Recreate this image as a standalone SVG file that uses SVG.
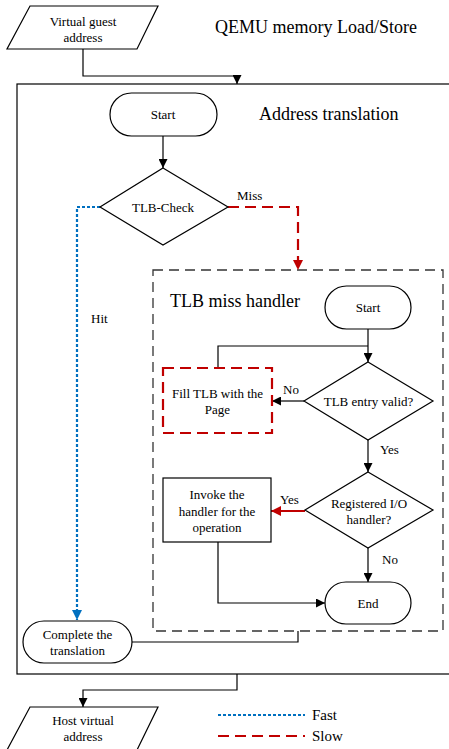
<svg xmlns="http://www.w3.org/2000/svg" width="449" height="749" viewBox="0 0 449 749">
<style>
text{font-family:"Liberation Serif","Times New Roman",serif;fill:#000}
.n{font-size:13px;text-anchor:middle;dominant-baseline:central}
.t{font-size:18px}
.lg{font-size:15px;dominant-baseline:central}
.lb{font-size:13px}
.sh{fill:#fff;stroke:#000;stroke-width:1.2}
.c{fill:none;stroke:#000;stroke-width:1.2}
.fast{fill:none;stroke:#0070C0;stroke-width:2.2;stroke-dasharray:3 2}
.slow{fill:none;stroke:#C00000;stroke-width:2.2;stroke-dasharray:11 6}
</style>
<defs>
<marker id="ak" viewBox="0 0 10 10" refX="10" refY="5" markerWidth="11" markerHeight="9" markerUnits="userSpaceOnUse" orient="auto"><path d="M0,0L10,5L0,10z" fill="#000"/></marker>
<marker id="ar" viewBox="0 0 10 10" refX="10" refY="5" markerWidth="11" markerHeight="10" markerUnits="userSpaceOnUse" orient="auto"><path d="M0,0L10,5L0,10z" fill="#C00000"/></marker>
<marker id="ab" viewBox="0 0 10 10" refX="10" refY="5" markerWidth="13" markerHeight="10" markerUnits="userSpaceOnUse" orient="auto"><path d="M0,0L10,5L0,10z" fill="#0070C0"/></marker>
</defs>
<rect width="449" height="749" fill="#fff"/>

<g id="outer">
<rect x="17" y="84" width="445" height="590" fill="none" stroke="#000" stroke-width="1.2"/>
</g>
<g id="missbox">
<rect x="153" y="270" width="290" height="361" fill="none" stroke="#333" stroke-width="1.3" stroke-dasharray="10 6"/>
</g>

<text class="t" x="215" y="33">QEMU memory Load/Store</text>
<text class="t" x="259" y="120">Address translation</text>
<text class="t" x="170" y="307">TLB miss handler</text>

<g id="connectors">
<polyline class="c" points="83,49 83,76 237,76 237,84" marker-end="url(#ak)"/>
<line class="c" x1="163" y1="136" x2="163" y2="168" marker-end="url(#ak)"/>
<polyline class="slow" points="228,207 298,207 298,270" marker-end="url(#ar)"/>
<polyline class="fast" points="100,207 77,207 77,620" marker-end="url(#ab)"/>
<line class="c" x1="368" y1="329" x2="368" y2="362" marker-end="url(#ak)"/>
<polyline class="c" points="218,368 218,346 368,346"/>
<line class="c" x1="304" y1="401" x2="272" y2="401" marker-end="url(#ak)"/>
<line class="c" x1="368" y1="440" x2="368" y2="472" marker-end="url(#ak)"/>
<line x1="305" y1="511" x2="271" y2="511" stroke="#C00000" stroke-width="2.2" marker-end="url(#ar)"/>
<line class="c" x1="368" y1="548" x2="368" y2="582" marker-end="url(#ak)"/>
<polyline class="c" points="218,542 218,603 325,603" marker-end="url(#ak)"/>
<polyline class="c" points="132,642 298,642 298,631"/>
<polyline class="c" points="237,674 237,690 83,690 83,707" marker-end="url(#ak)"/>
<text class="lb" x="237" y="200">Miss</text>
<text class="lb" x="91" y="323">Hit</text>
<text class="lb" x="283" y="394">No</text>
<text class="lb" x="380" y="454">Yes</text>
<text class="lb" x="280" y="504">Yes</text>
<text class="lb" x="382" y="564">No</text>
</g>

<g id="vga">
<polygon class="sh" points="30,6 158,6 137,49 7,49"/>
<text class="n" x="83" y="21">Virtual guest</text>
<text class="n" x="83" y="37">address</text>
</g>
<g id="start1">
<rect class="sh" x="110" y="93" width="107" height="43" rx="21.5"/>
<text class="n" x="163" y="114">Start</text>
</g>
<g id="tlbcheck">
<polygon class="sh" points="163,168 228,207 163,245 100,207"/>
<text class="n" x="163" y="207">TLB-Check</text>
</g>
<g id="start2">
<rect class="sh" x="325" y="286" width="86" height="43" rx="21.5"/>
<text class="n" x="368" y="307.5">Start</text>
</g>
<g id="valid">
<polygon class="sh" points="368,362 433,401 368,440 304,401"/>
<text class="n" x="368.5" y="401">TLB entry valid?</text>
</g>
<g id="fill">
<rect x="163" y="368" width="109" height="65" fill="#fff" stroke="#C00000" stroke-width="2.2" stroke-dasharray="11 6"/>
<text class="n" x="217.5" y="393">Fill TLB with the</text>
<text class="n" x="217.5" y="409">Page</text>
</g>
<g id="regio">
<polygon class="sh" points="368,472 433,510 368,548 305,510"/>
<text class="n" x="369" y="503">Registered I/O</text>
<text class="n" x="369" y="519">handler?</text>
</g>
<g id="invoke">
<rect class="sh" x="163" y="478" width="108" height="64"/>
<text class="n" x="217" y="494">Invoke the</text>
<text class="n" x="217" y="511">handler for the</text>
<text class="n" x="217" y="527">operation</text>
</g>
<g id="end">
<rect class="sh" x="325" y="582" width="86" height="42" rx="21"/>
<text class="n" x="368" y="603">End</text>
</g>
<g id="complete">
<rect class="sh" x="23" y="621" width="109" height="42" rx="21"/>
<text class="n" x="77.5" y="634">Complete the</text>
<text class="n" x="77.5" y="650">translation</text>
</g>
<g id="hva">
<polygon class="sh" points="30,707 158,707 137,750 7,750"/>
<text class="n" x="83" y="720">Host virtual</text>
<text class="n" x="83" y="736">address</text>
</g>
<g id="legend">
<line class="fast" x1="218" y1="715" x2="305" y2="715"/>
<text class="lg" x="312" y="715">Fast</text>
<line class="slow" x1="218" y1="736" x2="305" y2="736"/>
<text class="lg" x="312" y="736">Slow</text>
</g>
</svg>
